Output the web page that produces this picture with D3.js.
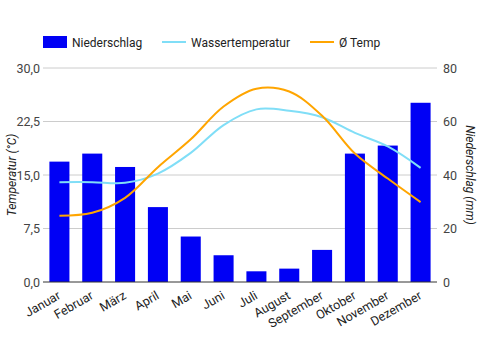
<!DOCTYPE html>
<html>
<head>
<meta charset="utf-8">
<script src="https://cdn.jsdelivr.net/npm/d3@7"></script>
<style>
  body { margin: 0; background: #fff; }
  text { font-family: Roboto, "Noto Sans", sans-serif; }
</style>
</head>
<body>
<div id="chart"></div>
<script>
const months = ["Januar", "Februar", "März", "April", "Mai", "Juni", "Juli", "August", "September", "Oktober", "November", "Dezember"];
const niederschlag = [45, 48, 43, 28, 17, 10, 4, 5, 12, 48, 51, 67];
const wassertemp = [14.0, 14.0, 13.9, 15.2, 18.1, 22.0, 24.2, 24.0, 23.1, 20.9, 19.0, 16.0];
const temp = [9.3, 9.7, 11.8, 16.1, 20.0, 24.6, 27.1, 26.7, 23.3, 18.0, 14.5, 11.2];
const tempTicks = [0, 7.5, 15, 22.5, 30];
const rainTicks = [0, 20, 40, 60, 80];

const W = 481, H = 350;
const MARGIN = { left: 43, right: 44, top: 68, bottom: 68 };
const width = W - MARGIN.left - MARGIN.right;
const height = H - MARGIN.top - MARGIN.bottom;

const BLUE = "#0000f5", CYAN = "#80def7", ORANGE = "#ffa500";

const svg = d3.select("#chart").append("svg")
    .attr("width", W)
    .attr("height", H);

const g = svg.append("g")
    .attr("transform", `translate(${MARGIN.left}, ${MARGIN.top})`);

const x = d3.scaleBand().domain(months).range([0, width]).paddingInner(0.39).paddingOuter(0.195);
const yT = d3.scaleLinear().domain([0, 30]).range([height, 0]);
const yR = d3.scaleLinear().domain([0, 80]).range([height, 0]);

// gridlines
g.append("g")
    .selectAll("line")
    .data(tempTicks.slice(1))
    .join("line")
    .attr("x1", 0).attr("x2", width)
    .attr("y1", d => yT(d)).attr("y2", d => yT(d))
    .attr("stroke", "#cccccc");

// bars
g.selectAll("rect.bar")
    .data(niederschlag)
    .join("rect")
    .attr("class", "bar")
    .attr("x", (d, i) => x(months[i]))
    .attr("width", x.bandwidth())
    .attr("y", d => yR(d))
    .attr("height", d => height - yR(d))
    .attr("fill", BLUE);

// baseline
g.append("line")
    .attr("x1", 0).attr("x2", width)
    .attr("y1", height).attr("y2", height)
    .attr("stroke", "#333");

const cx = i => x(months[i]) + x.bandwidth() / 2;
const line = d3.line()
    .x((d, i) => cx(i))
    .y(d => yT(d))
    .curve(d3.curveCatmullRom.alpha(0.5));

g.append("path")
    .attr("d", line(wassertemp))
    .attr("fill", "none")
    .attr("stroke", CYAN)
    .attr("stroke-width", 2);

g.append("path")
    .attr("d", line(temp))
    .attr("fill", "none")
    .attr("stroke", ORANGE)
    .attr("stroke-width", 2);

// left axis
const axL = g.append("g").call(d3.axisLeft(yT).tickValues(tempTicks).tickSize(0).tickPadding(3)
    .tickFormat(d => d3.format(".1f")(d).replace(".", ",")));
axL.select(".domain").remove();
axL.selectAll("text").attr("font-size", 12.5).attr("fill", "#444").attr("font-family", "Roboto");

// right axis
const axR = g.append("g").attr("transform", `translate(${width},0)`)
    .call(d3.axisRight(yR).tickValues(rainTicks).tickSize(0).tickPadding(6));
axR.select(".domain").remove();
axR.selectAll("text").attr("font-size", 12.5).attr("fill", "#444").attr("font-family", "Roboto");

// bottom labels
g.append("g")
    .selectAll("text")
    .data(months)
    .join("text")
    .attr("transform", (d, i) => `translate(${cx(i) + 2}, ${height + 16}) rotate(-30)`)
    .attr("text-anchor", "end")
    .attr("font-size", 12.5)
    .attr("fill", "#222")
    .text(d => d);

// axis titles
g.append("text")
    .attr("transform", "rotate(-90)")
    .attr("x", -height / 2)
    .attr("y", -MARGIN.left + 16)
    .attr("text-anchor", "middle")
    .attr("font-size", 12)
    .attr("font-style", "italic")
    .attr("fill", "#222")
    .text("Temperatur (°C)");

g.append("text")
    .attr("transform", `translate(${width + 29}, ${height / 2}) rotate(90)`)
    .attr("text-anchor", "middle")
    .attr("font-size", 12)
    .attr("font-style", "italic")
    .attr("fill", "#222")
    .text("Niederschlag (mm)");

// legend
const legend = svg.append("g").attr("transform", "translate(0, 42)");
legend.append("rect").attr("x", 43).attr("y", -6).attr("width", 24).attr("height", 12).attr("fill", BLUE);
legend.append("text").attr("x", 72).attr("y", 4.5).attr("font-size", 12).attr("fill", "#222").text("Niederschlag");
legend.append("line").attr("x1", 162).attr("x2", 186).attr("y1", 0).attr("y2", 0).attr("stroke", CYAN).attr("stroke-width", 2);
legend.append("text").attr("x", 191).attr("y", 4.5).attr("font-size", 12).attr("fill", "#222").text("Wassertemperatur");
legend.append("line").attr("x1", 310).attr("x2", 334).attr("y1", 0).attr("y2", 0).attr("stroke", ORANGE).attr("stroke-width", 2);
legend.append("text").attr("x", 339).attr("y", 4.5).attr("font-size", 12).attr("fill", "#222").text("Ø Temp");
</script>
</body>
</html>
